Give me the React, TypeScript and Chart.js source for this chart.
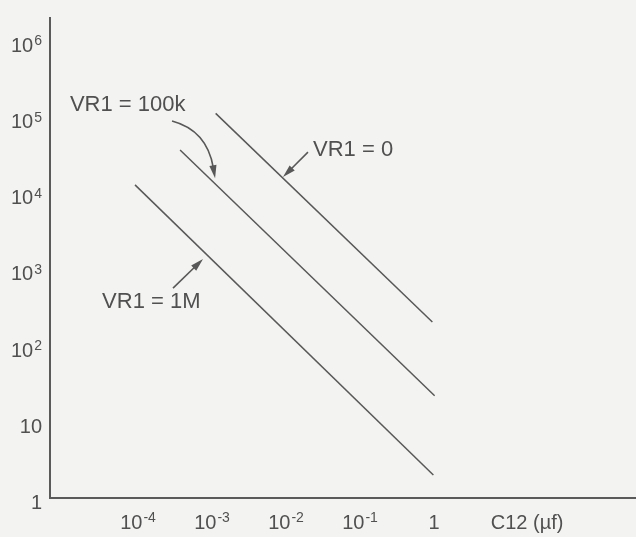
import React, { useEffect, useRef } from 'react';
import { Chart, registerables } from 'chart.js';

Chart.register(...registerables);

// ---- data ----
const seriesNames = ['VR1 = 0', 'VR1 = 100k', 'VR1 = 1M'];
const vr0X = [1.12e-3, 0.95];
const vr0Y = [1.12e5, 204];
const vr100kX = [3.7e-4, 1.02];
const vr100kY = [3.7e4, 22];
const vr1MX = [9.1e-5, 0.98];
const vr1MY = [1.29e4, 2.0];

const xTickValues = [1e-4, 1e-3, 1e-2, 1e-1, 1];
const yTickValues = [1, 10, 100, 1e3, 1e4, 1e5, 1e6];
const xAxisTitle = 'C12 (µf)';
const xAxisTitleX = 18.1;
const xMin = 6.46e-6;
const xMax = 537;
const yMin = 1;
const yMax = 2.0e6;

// annotation labels (anchored in data coordinates)
const labelTexts = ['VR1 = 0', 'VR1 = 100k', 'VR1 = 1M'];
const labelX = [0.0232, 1.2e-5, 3.27e-5];
const labelY = [3.69e4, 1.44e5, 373];

// annotation arrows (from -> to, optional bend control point)
const arrowFromX = [0.0198, 2.88e-4, 2.97e-4];
const arrowFromY = [3.47e4, 8.87e4, 570];
const arrowToX = [9.1e-3, 1.1e-3, 7.56e-4];
const arrowToY = [1.63e4, 1.58e4, 1.37e3];
const arrowBendX: (number | null)[] = [null, 8.55e-4, null];
const arrowBendY: (number | null)[] = [null, 6.7e4, null];

const INK = '#505050';
const LINE = '#585858';
const BG = '#f3f3f1';
const FONT = '"Liberation Sans", Arial, Helvetica, sans-serif';

function powLabel(v: number): [string, string] {
  const e = Math.round(Math.log10(v));
  if (e === 0) return ['1', ''];
  if (e === 1) return ['10', ''];
  return ['10', String(e)];
}

function drawPow(ctx: CanvasRenderingContext2D, v: number, x: number, baseline: number, align: 'center' | 'right') {
  const [base, exp] = powLabel(v);
  ctx.font = `20px ${FONT}`;
  const bw = ctx.measureText(base).width;
  ctx.font = `14px ${FONT}`;
  const ew = exp ? ctx.measureText(exp).width + 1 : 0;
  const total = bw + ew;
  const start = align === 'center' ? x - total / 2 : x - total;
  ctx.textAlign = 'left';
  ctx.textBaseline = 'alphabetic';
  ctx.fillStyle = INK;
  ctx.font = `20px ${FONT}`;
  ctx.fillText(base, start, baseline);
  if (exp) {
    ctx.font = `14px ${FONT}`;
    ctx.fillText(exp, start + bw + 1, baseline - 6.5);
  }
}

const decorPlugin = {
  id: 'decor',
  beforeDraw(chart: any) {
    const { ctx, width, height } = chart;
    ctx.save();
    ctx.fillStyle = BG;
    ctx.fillRect(0, 0, width, height);
    ctx.restore();
  },
  afterDraw(chart: any) {
    const { ctx } = chart;
    const xs = chart.scales.x;
    const ys = chart.scales.y;
    ctx.save();
    // tick labels
    xs.ticks.forEach((t: any) => {
      drawPow(ctx, t.value, xs.getPixelForValue(t.value), 528.5, 'center');
    });
    ys.ticks.forEach((t: any) => {
      drawPow(ctx, t.value, 42, ys.getPixelForValue(t.value) + 11, 'right');
    });
    // x axis title
    ctx.font = `20px ${FONT}`;
    ctx.fillStyle = INK;
    ctx.textAlign = 'center';
    ctx.textBaseline = 'alphabetic';
    ctx.fillText(xAxisTitle, xs.getPixelForValue(xAxisTitleX), 528.5);

    // annotation labels
    ctx.font = `22px ${FONT}`;
    ctx.textAlign = 'left';
    ctx.textBaseline = 'middle';
    labelTexts.forEach((txt, i) => {
      ctx.fillText(txt, xs.getPixelForValue(labelX[i]), ys.getPixelForValue(labelY[i]));
    });

    // arrows
    ctx.strokeStyle = LINE;
    ctx.fillStyle = LINE;
    ctx.lineWidth = 1.6;
    arrowFromX.forEach((_, i) => {
      const x0 = xs.getPixelForValue(arrowFromX[i]);
      const y0 = ys.getPixelForValue(arrowFromY[i]);
      const x1 = xs.getPixelForValue(arrowToX[i]);
      const y1 = ys.getPixelForValue(arrowToY[i]);
      const bx = arrowBendX[i];
      const by = arrowBendY[i];
      let dirX: number, dirY: number;
      const headLen = 13;
      const headHalf = 3.6;
      if (bx != null && by != null) {
        const cx = xs.getPixelForValue(bx);
        const cy = ys.getPixelForValue(by);
        dirX = x1 - cx;
        dirY = y1 - cy;
        const len = Math.hypot(dirX, dirY);
        dirX /= len; dirY /= len;
        const ex = x1 - dirX * headLen * 0.8;
        const ey = y1 - dirY * headLen * 0.8;
        ctx.beginPath();
        ctx.moveTo(x0, y0);
        ctx.quadraticCurveTo(cx, cy, ex, ey);
        ctx.stroke();
      } else {
        dirX = x1 - x0;
        dirY = y1 - y0;
        const len = Math.hypot(dirX, dirY);
        dirX /= len; dirY /= len;
        ctx.beginPath();
        ctx.moveTo(x0, y0);
        ctx.lineTo(x1 - dirX * headLen * 0.8, y1 - dirY * headLen * 0.8);
        ctx.stroke();
      }
      const hx = x1 - dirX * headLen;
      const hy = y1 - dirY * headLen;
      ctx.beginPath();
      ctx.moveTo(x1, y1);
      ctx.lineTo(hx - dirY * headHalf, hy + dirX * headHalf);
      ctx.lineTo(hx + dirY * headHalf, hy - dirX * headHalf);
      ctx.closePath();
      ctx.fill();
    });
    ctx.restore();
  },
};

function pts(xs: number[], ys: number[]) {
  return xs.map((x, i) => ({ x, y: ys[i] }));
}

export default function App() {
  const ref = useRef<HTMLCanvasElement | null>(null);
  useEffect(() => {
    document.body.style.margin = '0';
    document.body.style.background = BG;
    if (!ref.current) return;
    const seriesX = [vr0X, vr100kX, vr1MX];
    const seriesY = [vr0Y, vr100kY, vr1MY];
    const chart = new Chart(ref.current, {
      type: 'line',
      data: {
        datasets: seriesNames.map((name, i) => ({
          label: name,
          data: pts(seriesX[i], seriesY[i]),
          borderColor: LINE,
          borderWidth: 1.5,
          pointRadius: 0,
          fill: false,
          tension: 0,
        })),
      },
      options: {
        responsive: false,
        animation: false,
        devicePixelRatio: 1,
        layout: { padding: { top: 18, right: 0, bottom: 0, left: 0 } },
        plugins: { legend: { display: false }, tooltip: { enabled: false } },
        scales: {
          x: {
            type: 'logarithmic',
            min: xMin,
            max: xMax,
            grid: { display: false },
            border: { display: true, color: '#5a5a5a', width: 2 },
            ticks: { display: false },
            afterBuildTicks: (s: any) => {
              s.ticks = xTickValues.map((v) => ({ value: v }));
            },
            afterFit: (s: any) => {
              s.height = 39;
            },
          },
          y: {
            type: 'logarithmic',
            min: yMin,
            max: yMax,
            grid: { display: false },
            border: { display: true, color: '#5a5a5a', width: 2 },
            ticks: { display: false },
            afterBuildTicks: (s: any) => {
              s.ticks = yTickValues.map((v) => ({ value: v }));
            },
            afterFit: (s: any) => {
              s.width = 50;
            },
          },
        },
      } as any,
      plugins: [decorPlugin],
    });
    return () => chart.destroy();
  }, []);
  return (
    <div style={{ width: 636, height: 537 }}>
      <canvas ref={ref} width={636} height={537} style={{ display: 'block' }} />
    </div>
  );
}
